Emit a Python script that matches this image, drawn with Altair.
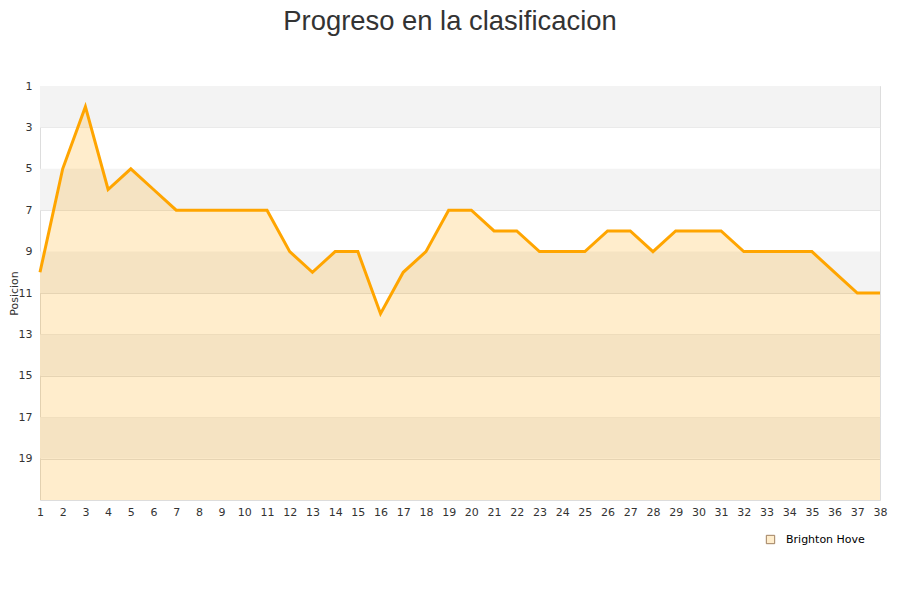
import altair as alt
import pandas as pd

jornadas = list(range(1, 39))
posiciones = [10, 5, 2, 6, 5, 6, 7, 7, 7, 7, 7, 9, 10, 9, 9, 12, 10, 9, 7, 7,
              8, 8, 9, 9, 9, 8, 8, 9, 8, 8, 8, 9, 9, 9, 9, 10, 11, 11]
equipo = "Brighton Hove"
band_start = [1, 5, 9, 13, 17]
band_end = [3, 7, 11, 15, 19]
y_ticks = [1, 3, 5, 7, 9, 11, 13, 15, 17, 19]

df = pd.DataFrame({"jornada": jornadas, "pos": posiciones, "equipo": equipo})
bands = pd.DataFrame({"y1": band_start, "y2": band_end})
legend_df = pd.DataFrame({"jornada": [1], "pos": [40], "equipo": [equipo]})

xscale = alt.Scale(domain=[1, 38], nice=False, zero=False)
yscale = alt.Scale(domain=[1, 21], reverse=True, nice=False, zero=False)

xaxis = alt.Axis(values=jornadas, title=None, grid=False, ticks=False,
                 domain=False, labelPadding=6, labelFontSize=11,
                 labelColor="#333333", labelFont="DejaVu Sans",
                 labelFlush=False, labelOverlap=False)
yaxis = alt.Axis(values=y_ticks, title="Posicion", grid=True,
                 gridColor="#e0e0e0", ticks=False, domain=False,
                 labelPadding=8, labelFontSize=11, labelColor="#333333",
                 labelFont="DejaVu Sans", titleFont="DejaVu Sans",
                 titleFontSize=11, titleFontWeight="normal",
                 titleColor="#333333", titleX=-26, titleY=207,
                 titleAngle=270, titleAlign="center", titleBaseline="middle")

band_layer = alt.Chart(bands).mark_rect(color="#f3f3f3").encode(
    y=alt.Y("y1:Q", scale=yscale, axis=yaxis),
    y2="y2:Q",
    x=alt.value(0),
    x2=alt.value(840),
)

area = alt.Chart(df).mark_area(color="#ffa500", opacity=0.2,
                               interpolate="linear").encode(
    x=alt.X("jornada:Q", scale=xscale, axis=xaxis),
    y=alt.Y("pos:Q", scale=yscale, axis=yaxis),
    y2=alt.datum(21),
)

line = alt.Chart(df).mark_line(color="#ffa500", strokeWidth=3).encode(
    x=alt.X("jornada:Q", scale=xscale, axis=xaxis),
    y=alt.Y("pos:Q", scale=yscale, axis=yaxis),
)

legend_layer = alt.Chart(legend_df).mark_square(
    size=70, filled=True, clip=True, stroke="#a08060", strokeWidth=1
).encode(
    x=alt.X("jornada:Q", scale=xscale, axis=xaxis),
    y=alt.Y("pos:Q", scale=yscale, axis=yaxis),
    color=alt.Color("equipo:N", scale=alt.Scale(range=["#ffedcc"]),
                    legend=alt.Legend(title=None, orient="none", legendX=725,
                                      legendY=448, symbolType="square",
                                      symbolSize=70, symbolOpacity=1,
                                      symbolStrokeColor="#a08060",
                                      symbolStrokeWidth=1,
                                      labelFont="DejaVu Sans", labelFontSize=11,
                                      labelColor="#000000", labelOffset=10)),
)

chart = alt.layer(band_layer, area, line, legend_layer).properties(
    width=840,
    height=414,
    title=alt.Title("Progreso en la clasificacion", fontSize=27.4,
                    font="Liberation Sans", fontWeight="normal",
                    color="#333333", offset=45, anchor="middle", dx=-10),
    autosize=alt.AutoSizeParams(type="none"),
    padding={"left": 32, "top": 78, "right": 10, "bottom": 60},
).configure_view(stroke="#dddddd")

chart.save("out.html", embed_options={"renderer": "svg", "actions": False})
